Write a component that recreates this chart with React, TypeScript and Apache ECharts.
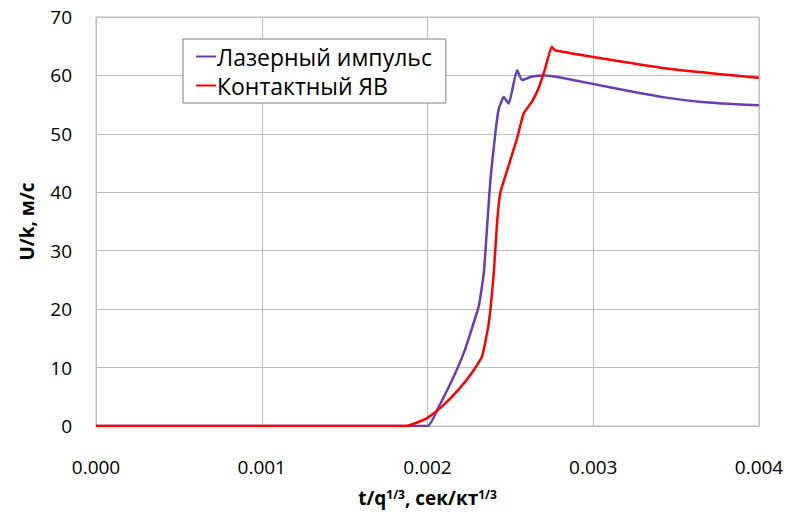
import React, { useEffect, useRef } from "react";
import * as echarts from "echarts";

const xTicks = ["0.000", "0.001", "0.002", "0.003", "0.004"];
const seriesNames = ["Лазерный импульс", "Контактный ЯВ"];

const laserT = [0, 0.002, 0.00207, 0.00212, 0.00217, 0.00222, 0.00226, 0.00231, 0.00234, 0.00236, 0.00238, 0.00241, 0.00243, 0.00246, 0.00249, 0.00254, 0.00257, 0.00263, 0.00271, 0.00281, 0.00299, 0.00324, 0.00344, 0.00364, 0.00384, 0.004];
const laserU = [0, 0, 3.4, 6.2, 9.2, 12.6, 16.0, 20.6, 26.3, 34.3, 42.3, 50.3, 54.3, 56.3, 55.2, 60.9, 59.2, 59.8, 60.0, 59.6, 58.6, 57.2, 56.2, 55.5, 55.1, 54.9];

const contactT = [0, 0.00187, 0.00191, 0.002, 0.00209, 0.00219, 0.00227, 0.00233, 0.00237, 0.0024, 0.00242, 0.00244, 0.00249, 0.00254, 0.00258, 0.00263, 0.00267, 0.00271, 0.00275, 0.00277, 0.00299, 0.00344, 0.004];
const contactU = [0, 0, 0.3, 1.4, 3.4, 6.3, 9.2, 12.0, 17.7, 26.3, 34.9, 40.0, 44.6, 49.2, 53.5, 55.5, 57.8, 61.2, 64.9, 64.3, 63.2, 61.2, 59.6];

const zip = (a: number[], b: number[]) => a.map((v, i) => [v, b[i]]);

export default function App() {
  const ref = useRef<HTMLDivElement>(null);
  useEffect(() => {
    if (!ref.current) return;
    const chart = echarts.init(ref.current, null, { renderer: "svg" });
    const font = "Open Sans";
    chart.setOption({
      animation: false,
      backgroundColor: "#ffffff",
      grid: { left: 96, right: 31, top: 17, bottom: 94, show: true, borderColor: "#bfbfbf", borderWidth: 1 },
      legend: {
        orient: "vertical",
        left: 183,
        top: 39,
        data: seriesNames,
        backgroundColor: "#ffffff",
        borderColor: "#7f7f7f",
        borderWidth: 1,
        padding: [4, 14, 4, 13],
        itemGap: 2,
        itemWidth: 20,
        itemHeight: 2,
        icon: "rect",
        textStyle: { fontFamily: font, fontSize: 23, color: "#000", lineHeight: 27, padding: [0, 0, 0, -4] },
      },
      xAxis: {
        type: "value",
        min: 0,
        max: 0.004,
        interval: 0.001,
        name: "t/q{sup|1/3}, сек/кт{sup|1/3}",
        nameLocation: "middle",
        nameGap: 62,
        nameTextStyle: {
          fontFamily: font,
          fontSize: 19,
          fontWeight: "bold",
          color: "#000",
          rich: {
            sup: { fontFamily: font, fontSize: 12, fontWeight: "bold", color: "#000", verticalAlign: "top", padding: [0, 0, 8, 0] },
          },
        },
        axisLine: { show: true, lineStyle: { color: "#bfbfbf" } },
        axisTick: { show: false },
        axisLabel: {
          fontFamily: font,
          fontSize: 19,
          color: "#000",
          margin: 31,
          formatter: (v: number) => xTicks[Math.round(v / 0.001)] ?? "",
        },
        splitLine: { show: true, lineStyle: { color: "#bfbfbf", width: 1 } },
      },
      yAxis: {
        type: "value",
        min: 0,
        max: 70,
        interval: 10,
        name: "U/k, м/с",
        nameLocation: "middle",
        nameGap: 60,
        nameTextStyle: { fontFamily: font, fontSize: 19, fontWeight: "bold", color: "#000" },
        axisLine: { show: true, lineStyle: { color: "#bfbfbf" } },
        axisTick: { show: false },
        axisLabel: { fontFamily: font, fontSize: 19, color: "#000", margin: 24 },
        splitLine: { show: true, lineStyle: { color: "#bfbfbf", width: 1 } },
      },
      series: [
        {
          name: seriesNames[0],
          type: "line",
          data: zip(laserT, laserU),
          showSymbol: false,
          smooth: 0.15,
          lineStyle: { color: "#6a3db5", width: 2.5 },
          itemStyle: { color: "#6a3db5" },
          z: 3,
        },
        {
          name: seriesNames[1],
          type: "line",
          data: zip(contactT, contactU),
          showSymbol: false,
          smooth: 0.15,
          lineStyle: { color: "#ff0000", width: 2.5 },
          itemStyle: { color: "#ff0000" },
          z: 4,
        },
      ],
    });
    return () => chart.dispose();
  }, []);
  return <div ref={ref} style={{ position: "fixed", left: 0, top: 0, width: 790, height: 520 }} />;
}
